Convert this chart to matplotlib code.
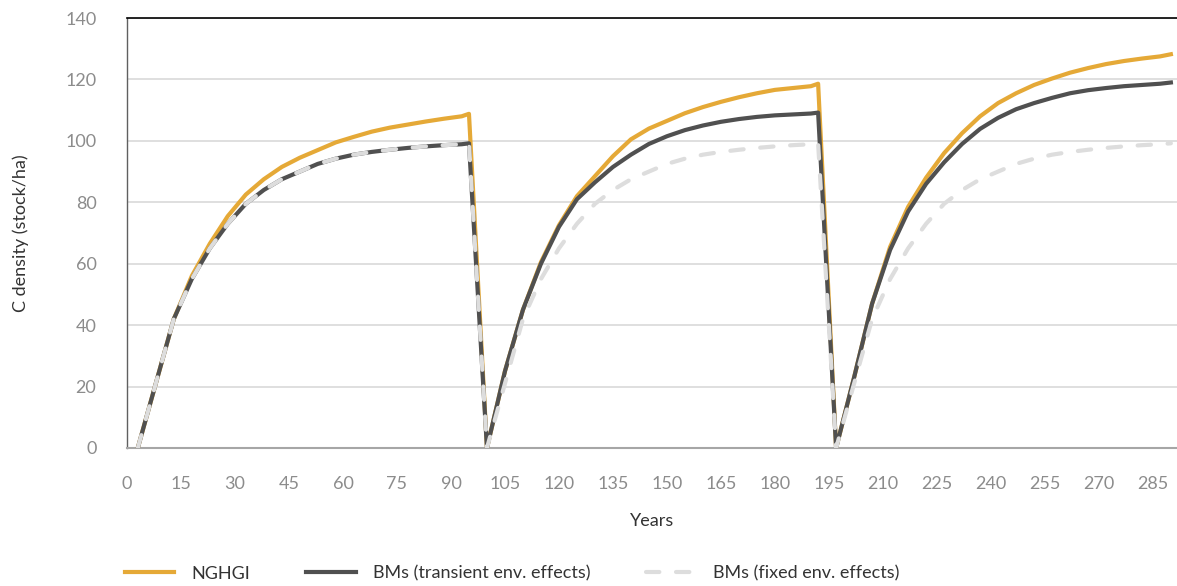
"""C density over three rotations: NGHGI vs. bookkeeping models."""
import matplotlib.pyplot as plt

plt.rcParams["font.family"] = ["Lato", "DejaVu Sans"]

# years of each point (three rotations, harvest drops back to zero)
years = [
    3, 8, 13, 18, 23, 28, 33, 38, 43, 48, 53, 58, 63, 68, 73, 78, 83, 88, 93, 95,
    100, 105, 110, 115, 120, 125, 130, 135, 140, 145, 150, 155, 160, 165, 170, 175, 180, 185, 190, 192,
    197, 202, 207, 212, 217, 222, 227, 232, 237, 242, 247, 252, 257, 262, 267, 272, 277, 282, 287, 290,
]

nghgi = [
    0, 21, 42, 56, 66.5, 75.5, 82.5, 87.5, 91.5, 94.5, 97, 99.5, 101.3, 103, 104.3, 105.3, 106.3, 107.2, 108, 108.8,
    0, 25, 45, 60.5, 72.5, 82, 88.5, 95, 100.5, 104, 106.5, 109, 111, 112.7, 114.2, 115.5, 116.6, 117.2, 117.8, 118.6,
    0, 23, 47, 65.5, 78.5, 88, 96, 102.5, 108, 112.3, 115.5, 118.2, 120.3, 122.2, 123.7, 125, 126, 126.8, 127.5, 128.2,
]

bm_transient = [
    0, 21, 42, 55, 65, 73, 79.5, 84, 87.5, 90, 92.5, 94.2, 95.5, 96.4, 97.1, 97.7, 98.2, 98.6, 98.9, 99.2,
    0, 25, 45, 60, 72, 81, 86.5, 91.5, 95.5, 99, 101.5, 103.5, 105, 106.2, 107.1, 107.8, 108.3, 108.6, 108.9, 109.2,
    0, 23, 47, 64.5, 77, 86, 93, 99, 103.9, 107.5, 110.3, 112.3, 114, 115.5, 116.5, 117.2, 117.8, 118.2, 118.6, 119,
]

bm_fixed = [
    0, 21, 42, 55, 65, 73, 79.5, 84, 87.5, 90, 92.5, 94.2, 95.5, 96.4, 97.1, 97.7, 98.2, 98.6, 98.9, 99.2,
    0, 21, 42, 55, 65, 73, 79.5, 84, 87.5, 90, 92.5, 94.2, 95.5, 96.4, 97.1, 97.7, 98.2, 98.6, 98.9, 99.2,
    0, 21, 42, 55, 65, 73, 79.5, 84, 87.5, 90, 92.5, 94.2, 95.5, 96.4, 97.1, 97.7, 98.2, 98.6, 98.9, 99.2,
]

x_ticks = list(range(0, 286, 15))
y_ticks = [0, 20, 40, 60, 80, 100, 120, 140]

fig = plt.figure(figsize=(11.77, 5.86), dpi=100)
ax = fig.add_axes([127 / 1177, 1 - 448 / 586, 1050 / 1177, 430 / 586])

ax.plot(years, nghgi, color="#E5A937", lw=3, label="NGHGI", zorder=3)
ax.plot(years, bm_transient, color="#505050", lw=3, label="BMs (transient env. effects)", zorder=4)
ax.plot(years, bm_fixed, color="#DDDDDD", lw=3, dashes=(3.2, 4.0), dash_capstyle="round",
        label="BMs (fixed env. effects)", zorder=5)

ax.set_xlim(0, 291.7)
ax.set_ylim(0, 140)
ax.set_xticks(x_ticks)
ax.set_yticks(y_ticks)
ax.tick_params(length=0, labelsize=13, labelcolor="#8C8C8C")
ax.tick_params(axis="y", pad=22)
ax.tick_params(axis="x", pad=20)
ax.grid(axis="y", color="#D9D9D9", lw=1.2)
ax.set_axisbelow(True)

ax.spines["right"].set_visible(False)
ax.spines["top"].set_color("#000000")
ax.spines["top"].set_linewidth(1.2)
ax.spines["left"].set_color("#606060")
ax.spines["left"].set_linewidth(1.0)
ax.spines["bottom"].set_color("#A6A6A6")
ax.spines["bottom"].set_linewidth(1.5)

ax.set_xlabel("Years", fontsize=13, color="#333333", labelpad=15)
ax.set_ylabel("C density (stock/ha)", fontsize=13, color="#333333", labelpad=26)

fig.legend(loc="center", bbox_to_anchor=(0.435, 0.021), ncol=3, frameon=False, fontsize=13,
           handlelength=2.75, handletextpad=0.95, columnspacing=3.1, labelcolor="#333333")

fig.savefig("out.png", dpi=100)
